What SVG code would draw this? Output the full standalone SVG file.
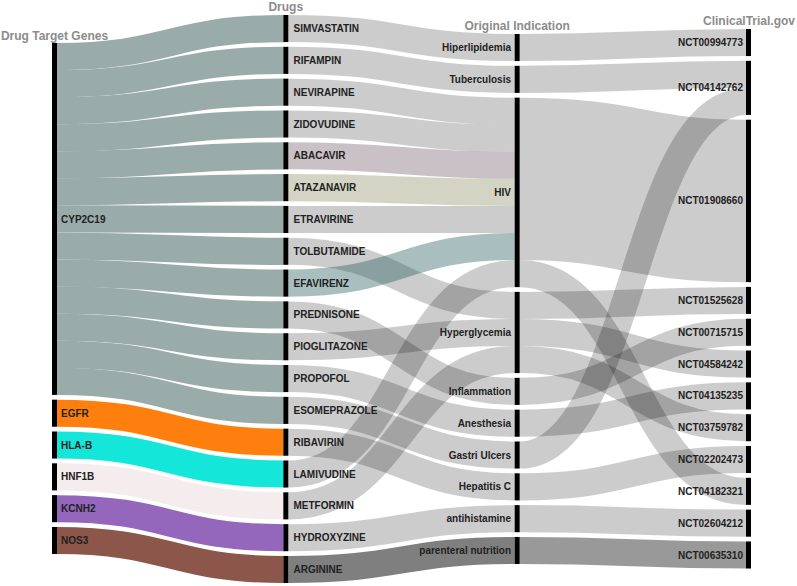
<svg xmlns="http://www.w3.org/2000/svg" width="797" height="586" viewBox="0 0 797 586">
<style>
.lk{fill:none;stroke-width:27.07}
.g{stroke-width:27.2}
.d{stroke:#000;stroke-opacity:0.2}
.bar{fill:#000}
.lbl{font-family:"Liberation Sans",Arial,sans-serif;font-size:10px;font-weight:bold;fill:#222}
.hdr{font-family:"Liberation Sans",Arial,sans-serif;font-size:12px;font-weight:bold;fill:#8c8c8c;text-anchor:middle}
.e{text-anchor:end}
</style>
<rect width="797" height="586" fill="#fff"/>
<g id="headers">
<text class="hdr" x="54.5" y="39.5">Drug Target Genes</text>
<text class="hdr" x="285.8" y="11">Drugs</text>
<text class="hdr" x="517.2" y="30">Original Indication</text>
<text class="hdr" x="749" y="25">ClinicalTrial.gov</text>
</g>
<g id="connectors">
<g stroke="#9aacaa">
<path class="lk g" d="M57,56.54C170.17,56.54 170.17,28.54 283.33,28.54"/>
<path class="lk g" d="M57,83.61C170.17,83.61 170.17,60.36 283.33,60.36"/>
<path class="lk g" d="M57,110.68C170.17,110.68 170.17,92.18 283.33,92.18"/>
<path class="lk g" d="M57,137.75C170.17,137.75 170.17,124 283.33,124"/>
<path class="lk g" d="M57,164.82C170.17,164.82 170.17,155.82 283.33,155.82"/>
<path class="lk g" d="M57,191.89C170.17,191.89 170.17,187.64 283.33,187.64"/>
<path class="lk g" d="M57,218.96C170.17,218.96 170.17,219.46 283.33,219.46"/>
<path class="lk g" d="M57,246.02C170.17,246.02 170.17,251.28 283.33,251.28"/>
<path class="lk g" d="M57,273.1C170.17,273.1 170.17,283.1 283.33,283.1"/>
<path class="lk g" d="M57,300.17C170.17,300.17 170.17,314.92 283.33,314.92"/>
<path class="lk g" d="M57,327.24C170.17,327.24 170.17,346.74 283.33,346.74"/>
<path class="lk g" d="M57,354.31C170.17,354.31 170.17,378.56 283.33,378.56"/>
<path class="lk g" d="M57,381.38C170.17,381.38 170.17,410.38 283.33,410.38"/>
</g>
<path class="lk" stroke="#ff7f0e" d="M57,413.2C170.17,413.2 170.17,442.2 283.33,442.2"/>
<path class="lk" stroke="#14e6d9" d="M57,445.02C170.17,445.02 170.17,474.02 283.33,474.02"/>
<path class="lk" stroke="#f5eded" d="M57,476.84C170.17,476.84 170.17,505.84 283.33,505.84"/>
<path class="lk" stroke="#9467bd" d="M57,508.66C170.17,508.66 170.17,537.66 283.33,537.66"/>
<path class="lk" stroke="#8c564b" d="M57,540.48C170.17,540.48 170.17,569.48 283.33,569.48"/>

<path class="lk d" d="M288.33,28.54C401.5,28.54 401.5,47.54 514.67,47.54"/>
<path class="lk d" d="M288.33,60.36C401.5,60.36 401.5,79.36 514.67,79.36"/>
<path class="lk d" d="M288.33,92.18C401.5,92.18 401.5,111.18 514.67,111.18"/>
<path class="lk d" d="M288.33,124C401.5,124 401.5,138.25 514.67,138.25"/>
<path class="lk" stroke="#786470" stroke-opacity="0.4" d="M288.33,155.82C401.5,155.82 401.5,165.31 514.67,165.31"/>
<path class="lk" stroke="#91936b" stroke-opacity="0.4" d="M288.33,187.64C401.5,187.64 401.5,192.39 514.67,192.39"/>
<path class="lk d" d="M288.33,219.46C401.5,219.46 401.5,219.46 514.67,219.46"/>
<path class="lk d" d="M288.33,251.28C401.5,251.28 401.5,305.42 514.67,305.42"/>
<path class="lk" stroke="#285f5f" stroke-opacity="0.4" d="M288.33,283.1C401.5,283.1 401.5,246.52 514.67,246.52"/>
<path class="lk d" d="M288.33,314.92C401.5,314.92 401.5,391.38 514.67,391.38"/>
<path class="lk d" d="M288.33,346.74C401.5,346.74 401.5,332.48 514.67,332.48"/>
<path class="lk d" d="M288.33,378.56C401.5,378.56 401.5,423.2 514.67,423.2"/>
<path class="lk d" d="M288.33,410.38C401.5,410.38 401.5,455.02 514.67,455.02"/>
<path class="lk d" d="M288.33,442.2C401.5,442.2 401.5,486.84 514.67,486.84"/>
<path class="lk d" d="M288.33,474.02C401.5,474.02 401.5,273.6 514.67,273.6"/>
<path class="lk d" d="M288.33,505.84C401.5,505.84 401.5,359.56 514.67,359.56"/>
<path class="lk d" d="M288.33,537.66C401.5,537.66 401.5,518.66 514.67,518.66"/>
<path class="lk" stroke="#000" stroke-opacity="0.5" d="M288.33,569.48C401.5,569.48 401.5,550.48 514.67,550.48"/>

<path class="lk d" d="M519.67,47.54C632.83,47.54 632.83,42.54 746,42.54"/>
<path class="lk d" d="M519.67,79.36C632.83,79.36 632.83,74.36 746,74.36"/>
<path class="lk d" style="stroke-width:162.42" d="M519.67,178.85C632.83,178.85 632.83,200.92 746,200.92"/>
<path class="lk d" d="M519.67,273.6C632.83,273.6 632.83,491.34 746,491.34"/>
<path class="lk d" d="M519.67,305.42C632.83,305.42 632.83,300.42 746,300.42"/>
<path class="lk d" d="M519.67,332.48C632.83,332.48 632.83,364.06 746,364.06"/>
<path class="lk d" d="M519.67,359.56C632.83,359.56 632.83,427.7 746,427.7"/>
<path class="lk d" d="M519.67,391.38C632.83,391.38 632.83,332.24 746,332.24"/>
<path class="lk d" d="M519.67,423.2C632.83,423.2 632.83,395.88 746,395.88"/>
<path class="lk d" d="M519.67,455.02C632.83,455.02 632.83,101.43 746,101.43"/>
<path class="lk d" d="M519.67,486.84C632.83,486.84 632.83,459.52 746,459.52"/>
<path class="lk d" d="M519.67,518.66C632.83,518.66 632.83,523.16 746,523.16"/>
<path class="lk" stroke="#000" stroke-opacity="0.4" d="M519.67,550.48C632.83,550.48 632.83,554.98 746,554.98"/>
</g>

<g id="n-cyp2c19"><rect class="bar" x="52" y="43" width="5" height="351.91"/><text class="lbl" x="61" y="222.5">CYP2C19</text></g>
<g id="n-egfr"><rect class="bar" x="52" y="399.66" width="5" height="27.07"/><text class="lbl" x="61" y="416.7">EGFR</text></g>
<g id="n-hlab"><rect class="bar" x="52" y="431.48" width="5" height="27.07"/><text class="lbl" x="61" y="448.5">HLA-B</text></g>
<g id="n-hnf1b"><rect class="bar" x="52" y="463.3" width="5" height="27.07"/><text class="lbl" x="61" y="480.3">HNF1B</text></g>
<g id="n-kcnh2"><rect class="bar" x="52" y="495.12" width="5" height="27.07"/><text class="lbl" x="61" y="512.2">KCNH2</text></g>
<g id="n-nos3"><rect class="bar" x="52" y="526.94" width="5" height="27.07"/><text class="lbl" x="61" y="544">NOS3</text></g>

<g id="n-simvastatin"><rect class="bar" x="283.33" y="15" width="5" height="27.07"/><text class="lbl" x="293.5" y="32">SIMVASTATIN</text></g>
<g id="n-rifampin"><rect class="bar" x="283.33" y="46.82" width="5" height="27.07"/><text class="lbl" x="293.5" y="63.9">RIFAMPIN</text></g>
<g id="n-nevirapine"><rect class="bar" x="283.33" y="78.64" width="5" height="27.07"/><text class="lbl" x="293.5" y="95.7">NEVIRAPINE</text></g>
<g id="n-zidovudine"><rect class="bar" x="283.33" y="110.46" width="5" height="27.07"/><text class="lbl" x="293.5" y="127.5">ZIDOVUDINE</text></g>
<g id="n-abacavir"><rect class="bar" x="283.33" y="142.28" width="5" height="27.07"/><text class="lbl" x="293.5" y="159.3">ABACAVIR</text></g>
<g id="n-atazanavir"><rect class="bar" x="283.33" y="174.1" width="5" height="27.07"/><text class="lbl" x="293.5" y="191.1">ATAZANAVIR</text></g>
<g id="n-etravirine"><rect class="bar" x="283.33" y="205.92" width="5" height="27.07"/><text class="lbl" x="293.5" y="223">ETRAVIRINE</text></g>
<g id="n-tolbutamide"><rect class="bar" x="283.33" y="237.74" width="5" height="27.07"/><text class="lbl" x="293.5" y="254.8">TOLBUTAMIDE</text></g>
<g id="n-efavirenz"><rect class="bar" x="283.33" y="269.56" width="5" height="27.07"/><text class="lbl" x="293.5" y="286.6">EFAVIRENZ</text></g>
<g id="n-prednisone"><rect class="bar" x="283.33" y="301.38" width="5" height="27.07"/><text class="lbl" x="293.5" y="318.4">PREDNISONE</text></g>
<g id="n-pioglitazone"><rect class="bar" x="283.33" y="333.2" width="5" height="27.07"/><text class="lbl" x="293.5" y="350.2">PIOGLITAZONE</text></g>
<g id="n-propofol"><rect class="bar" x="283.33" y="365.02" width="5" height="27.07"/><text class="lbl" x="293.5" y="382.1">PROPOFOL</text></g>
<g id="n-esomeprazole"><rect class="bar" x="283.33" y="396.84" width="5" height="27.07"/><text class="lbl" x="293.5" y="413.9">ESOMEPRAZOLE</text></g>
<g id="n-ribavirin"><rect class="bar" x="283.33" y="428.66" width="5" height="27.07"/><text class="lbl" x="293.5" y="445.7">RIBAVIRIN</text></g>
<g id="n-lamivudine"><rect class="bar" x="283.33" y="460.48" width="5" height="27.07"/><text class="lbl" x="293.5" y="477.5">LAMIVUDINE</text></g>
<g id="n-metformin"><rect class="bar" x="283.33" y="492.3" width="5" height="27.07"/><text class="lbl" x="293.5" y="509.3">METFORMIN</text></g>
<g id="n-hydroxyzine"><rect class="bar" x="283.33" y="524.12" width="5" height="27.07"/><text class="lbl" x="293.5" y="541.2">HYDROXYZINE</text></g>
<g id="n-arginine"><rect class="bar" x="283.33" y="555.94" width="5" height="27.07"/><text class="lbl" x="293.5" y="573">ARGININE</text></g>

<g id="n-hiperlipidemia"><rect class="bar" x="514.67" y="34" width="5" height="27.07"/><text class="lbl e" x="511" y="51">Hiperlipidemia</text></g>
<g id="n-tuberculosis"><rect class="bar" x="514.67" y="65.82" width="5" height="27.07"/><text class="lbl e" x="511" y="82.9">Tuberculosis</text></g>
<g id="n-hiv"><rect class="bar" x="514.67" y="97.64" width="5" height="189.49"/><text class="lbl e" x="511" y="195.9">HIV</text></g>
<g id="n-hyperglycemia"><rect class="bar" x="514.67" y="291.88" width="5" height="81.21"/><text class="lbl e" x="511" y="336">Hyperglycemia</text></g>
<g id="n-inflammation"><rect class="bar" x="514.67" y="377.84" width="5" height="27.07"/><text class="lbl e" x="511" y="394.9">Inflammation</text></g>
<g id="n-anesthesia"><rect class="bar" x="514.67" y="409.66" width="5" height="27.07"/><text class="lbl e" x="511" y="426.7">Anesthesia</text></g>
<g id="n-gastriulcers"><rect class="bar" x="514.67" y="441.48" width="5" height="27.07"/><text class="lbl e" x="511" y="458.5">Gastri Ulcers</text></g>
<g id="n-hepatitisc"><rect class="bar" x="514.67" y="473.3" width="5" height="27.07"/><text class="lbl e" x="511" y="490.3">Hepatitis C</text></g>
<g id="n-antihistamine"><rect class="bar" x="514.67" y="505.12" width="5" height="27.07"/><text class="lbl e" x="511" y="522.2">antihistamine</text></g>
<g id="n-parenteral"><rect class="bar" x="514.67" y="536.94" width="5" height="27.07"/><text class="lbl e" x="511" y="554">parenteral nutrition</text></g>

<g id="n-nct00994773"><rect class="bar" x="746" y="29" width="5" height="27.07"/><text class="lbl e" x="743" y="46">NCT00994773</text></g>
<g id="n-nct04142762"><rect class="bar" x="746" y="60.82" width="5" height="54.14"/><text class="lbl e" x="743" y="91.4">NCT04142762</text></g>
<g id="n-nct01908660"><rect class="bar" x="746" y="119.71" width="5" height="162.42"/><text class="lbl e" x="743" y="204.4">NCT01908660</text></g>
<g id="n-nct01525628"><rect class="bar" x="746" y="286.88" width="5" height="27.07"/><text class="lbl e" x="743" y="303.9">NCT01525628</text></g>
<g id="n-nct00715715"><rect class="bar" x="746" y="318.7" width="5" height="27.07"/><text class="lbl e" x="743" y="335.7">NCT00715715</text></g>
<g id="n-nct04584242"><rect class="bar" x="746" y="350.52" width="5" height="27.07"/><text class="lbl e" x="743" y="367.6">NCT04584242</text></g>
<g id="n-nct04135235"><rect class="bar" x="746" y="382.34" width="5" height="27.07"/><text class="lbl e" x="743" y="399.4">NCT04135235</text></g>
<g id="n-nct03759782"><rect class="bar" x="746" y="414.16" width="5" height="27.07"/><text class="lbl e" x="743" y="431.2">NCT03759782</text></g>
<g id="n-nct02202473"><rect class="bar" x="746" y="445.98" width="5" height="27.07"/><text class="lbl e" x="743" y="463">NCT02202473</text></g>
<g id="n-nct04182321"><rect class="bar" x="746" y="477.8" width="5" height="27.07"/><text class="lbl e" x="743" y="494.8">NCT04182321</text></g>
<g id="n-nct02604212"><rect class="bar" x="746" y="509.62" width="5" height="27.07"/><text class="lbl e" x="743" y="526.7">NCT02604212</text></g>
<g id="n-nct00635310"><rect class="bar" x="746" y="541.44" width="5" height="27.07"/><text class="lbl e" x="743" y="558.5">NCT00635310</text></g>
</svg>
